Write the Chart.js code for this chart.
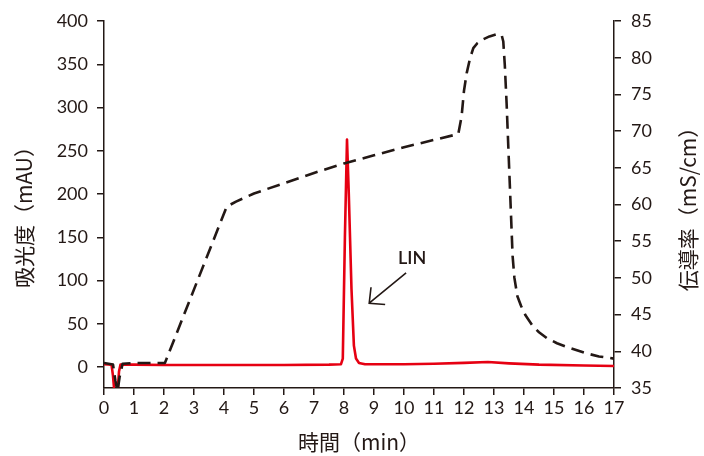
<!DOCTYPE html>
<html>
<head>
<meta charset="utf-8">
<script src="https://cdn.jsdelivr.net/npm/chart.js@4"></script>
<style>
  body { margin: 0; background: #fff; }
  canvas { display: block; }
</style>
</head>
<body>
<canvas id="myChart" width="704" height="456"></canvas>
<script>
// 伝導率 (mS/cm) - dashed black, right axis
const condTime = [0, 0.3, 0.38, 0.45, 0.52, 0.62, 1, 2.03, 4.09, 4.4, 5, 6, 7, 8, 9, 10, 11, 11.81, 11.92, 12.0, 12.09, 12.2, 12.31, 12.45, 12.64, 12.85, 13.09, 13.2, 13.26, 13.31, 13.36, 13.42, 13.53, 13.62, 13.68, 13.78, 13.9, 14.05, 14.3, 14.5, 14.76, 15.1, 15.42, 16.1, 16.5, 17];
const condValue = [38.4, 38.2, 36, 34.5, 36.5, 38.3, 38.4, 38.4, 59.7, 60.4, 61.5, 62.9, 64.3, 65.6, 66.7, 67.8, 68.8, 69.6, 72, 75.5, 77.9, 79.9, 81.3, 82, 82.5, 82.9, 83.2, 83.2, 83, 82.2, 79, 73.8, 62.4, 53, 50, 47.5, 46.2, 44.9, 43.4, 42.6, 41.8, 41.1, 40.6, 39.7, 39.3, 39.0];

// 吸光度 (mAU) - red, left axis
const absTime = [0, 0.25, 0.3, 0.35, 0.45, 0.5, 0.55, 1, 2, 4, 6, 7.5, 7.9, 7.96, 8.03, 8.1, 8.16, 8.25, 8.33, 8.4, 8.5, 8.7, 10, 11, 12, 12.8, 13.5, 14.5, 16, 17];
const absValue = [3.5, 3, -10, -30, -30, -5, 3, 3, 2.5, 2.5, 2.5, 3, 3.5, 10, 150, 263, 200, 90, 25, 10, 5, 3.5, 3.5, 4, 5, 6, 4.5, 3, 2, 1.5];

const xTicks = { min: 0, max: 17, step: 1 };
const leftTicks = { min: -24, max: 400, step: 50 };
const rightTicks = { min: 35, max: 85, step: 5 };

const ink = "#231815";
const tickFont = { family: "Lato", size: 18 };

const toPoints = (xs, ys) => xs.map((x, i) => ({ x: x, y: ys[i] }));

// titles + LIN arrow
const extras = {
  id: "extras",
  afterDraw(chart) {
    const c = chart.ctx;
    const xs = chart.scales.x, yl = chart.scales.y;
    const area = chart.chartArea;
    c.save();
    c.fillStyle = ink;
    c.strokeStyle = ink;
    c.font = '21px "Noto Sans CJK JP"';
    c.textAlign = "center";
    c.textBaseline = "middle";

    c.fillText("時間（min）", (area.left + area.right) / 2, 442);

    c.save();
    c.translate(24, 212);
    c.rotate(-Math.PI / 2);
    c.fillText("吸光度（mAU）", 0, 0);
    c.restore();

    c.save();
    c.translate(688, 204);
    c.rotate(-Math.PI / 2);
    c.fillText("伝導率（mS/cm）", 0, 0);
    c.restore();

    // annotation
    c.font = '600 18px "Lato"';
    c.fillText("LIN", xs.getPixelForValue(10.27), yl.getPixelForValue(126));

    const tx = xs.getPixelForValue(8.84), ty = yl.getPixelForValue(74);
    const sx = xs.getPixelForValue(10.07), sy = yl.getPixelForValue(109);
    const a = Math.atan2(sy - ty, sx - tx);
    const hl = 16, ha = 0.77;
    c.lineWidth = 1.6;
    c.beginPath();
    c.moveTo(sx, sy);
    c.lineTo(tx, ty);
    c.moveTo(tx + hl * Math.cos(a - ha), ty + hl * Math.sin(a - ha));
    c.lineTo(tx, ty);
    c.lineTo(tx + hl * Math.cos(a + ha), ty + hl * Math.sin(a + ha));
    c.stroke();
    c.restore();
  },
};

const axisGrid = { drawOnChartArea: false, tickLength: 7, color: ink, lineWidth: 1.5 };

new Chart(document.getElementById("myChart").getContext("2d"), {
  type: "line",
  data: {
    datasets: [
      {
        data: toPoints(condTime, condValue),
        yAxisID: "y1",
        borderColor: ink,
        borderWidth: 2.6,
        borderDash: [13, 7],
        borderJoinStyle: "round",
        pointRadius: 0,
        tension: 0,
      },
      {
        data: toPoints(absTime, absValue),
        yAxisID: "y",
        borderColor: "#e60012",
        borderWidth: 2.6,
        borderJoinStyle: "round",
        pointRadius: 0,
        tension: 0,
      },
    ],
  },
  options: {
    responsive: false,
    animation: false,
    layout: { padding: { top: 21, left: 0, right: 0, bottom: 0 } },
    plugins: { legend: { display: false }, tooltip: { enabled: false } },
    scales: {
      x: {
        type: "linear",
        min: xTicks.min,
        max: xTicks.max,
        ticks: { stepSize: xTicks.step, color: ink, font: tickFont, padding: 2, maxRotation: 0 },
        grid: axisGrid,
        border: { color: ink, width: 1.5 },
        afterFit: (s) => { s.height = 68; },
      },
      y: {
        position: "left",
        min: leftTicks.min,
        max: leftTicks.max,
        ticks: { stepSize: leftTicks.step, includeBounds: false, color: ink, font: tickFont, padding: 9 },
        grid: axisGrid,
        border: { color: ink, width: 1.5 },
        afterFit: (s) => { s.width = 104; },
      },
      y1: {
        position: "right",
        min: rightTicks.min,
        max: rightTicks.max,
        ticks: { stepSize: rightTicks.step, color: ink, font: tickFont, padding: 10 },
        grid: axisGrid,
        border: { color: ink, width: 1.5 },
        afterFit: (s) => { s.width = 90; },
      },
    },
  },
  plugins: [extras],
});
</script>
</body>
</html>
